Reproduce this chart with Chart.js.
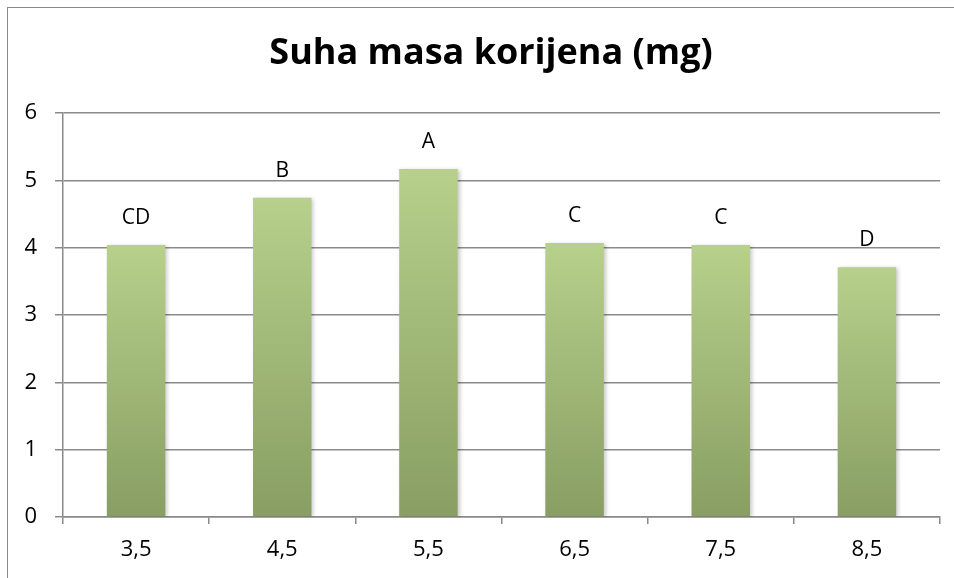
<!DOCTYPE html>
<html>
<head>
<meta charset="utf-8">
<script src="https://cdn.jsdelivr.net/npm/chart.js@4.4.0/dist/chart.umd.min.js"></script>
<style>
  html, body { margin: 0; padding: 0; background: #fff; overflow: hidden; }
  #wrap { position: relative; width: 954px; height: 578px; }
  #frame { position: absolute; left: 7px; top: 7px; width: 960px; height: 620px; border: 1px solid #8a8a8a; box-sizing: border-box; }
  #title { position: absolute; left: 0; top: 29px; width: 982px; text-align: center;
           font: bold 36px/44px 'Open Sans', 'Noto Sans', sans-serif; color: #000; white-space: nowrap; }
  canvas { position: absolute; left: 0; top: 0; }
</style>
</head>
<body>
<div id="wrap">
  <div id="frame"></div>
  <canvas id="chart" width="954" height="578"></canvas>
  <div id="title">Suha masa korijena (mg)</div>
</div>
<script>
// pH values on the x axis
const categories = ["3,5", "4,5", "5,5", "6,5", "7,5", "8,5"];
// dry root mass (mg)
const rootMass = [4.04, 4.74, 5.17, 4.07, 4.04, 3.71];
// significance letters above the bars
const letters = ["CD", "B", "A", "C", "C", "D"];

const fontFamily = "'Open Sans', 'Noto Sans', sans-serif";

// letters drawn above each bar
const letterPlugin = {
  id: "letters",
  afterDatasetsDraw(chart) {
    const ctx = chart.ctx;
    const meta = chart.getDatasetMeta(0);
    ctx.save();
    ctx.fillStyle = "#000";
    ctx.font = "21px " + fontFamily;
    ctx.textAlign = "center";
    ctx.textBaseline = "middle";
    meta.data.forEach((bar, i) => {
      ctx.fillText(letters[i], bar.x, bar.y - 27);
    });
    ctx.restore();
  }
};

// soft shadow behind the bars
const shadowPlugin = {
  id: "barShadow",
  beforeDatasetsDraw(chart) {
    const ctx = chart.ctx;
    ctx.save();
    ctx.shadowColor = "rgba(0,0,0,0.22)";
    ctx.shadowBlur = 4;
    ctx.shadowOffsetX = 2;
    ctx.shadowOffsetY = 1;
  },
  afterDatasetsDraw(chart) {
    chart.ctx.restore();
  }
};

new Chart(document.getElementById("chart"), {
  type: "bar",
  data: {
    labels: categories,
    datasets: [
      {
        data: rootMass,
        barPercentage: 0.8,
        categoryPercentage: 0.5,
        backgroundColor: (context) => {
          const chart = context.chart;
          const yScale = chart.scales.y;
          if (!chart.chartArea || !yScale) return "#a4bc7a";
          const top = yScale.getPixelForValue(context.raw);
          const bottom = yScale.getPixelForValue(0);
          if (!Number.isFinite(top) || !Number.isFinite(bottom)) return "#a4bc7a";
          const g = chart.ctx.createLinearGradient(0, top, 0, bottom);
          g.addColorStop(0, "#b7d08b");
          g.addColorStop(1, "#889e63");
          return g;
        },
        borderWidth: 0,
      },
    ],
  },
  options: {
    responsive: false,
    animation: false,
    layout: { padding: { left: 0, right: 14, top: 113, bottom: 0 } },
    plugins: {
      legend: { display: false },
      tooltip: { enabled: false },
      title: { display: false },
    },
    scales: {
      x: {
        grid: {
          offset: true,
          drawOnChartArea: false,
          drawTicks: true,
          tickLength: 7,
          color: "#8a8a8a",
          lineWidth: 1.5,
        },
        border: { display: true, color: "#8a8a8a", width: 1.5 },
        ticks: {
          color: "#000",
          font: { family: fontFamily, size: 22 },
          padding: 13,
        },
        afterFit: (scale) => { scale.height = 61; },
      },
      y: {
        min: 0,
        max: 6,
        ticks: {
          stepSize: 1,
          color: "#000",
          font: { family: fontFamily, size: 22 },
          padding: 18,
        },
        grid: {
          color: "#8a8a8a",
          lineWidth: 1.5,
          drawTicks: true,
          tickLength: 8,
        },
        border: { display: true, color: "#8a8a8a", width: 1.5 },
        afterFit: (scale) => { scale.width = 63; },
      },
    },
  },
  plugins: [shadowPlugin, letterPlugin],
});
</script>
</body>
</html>
